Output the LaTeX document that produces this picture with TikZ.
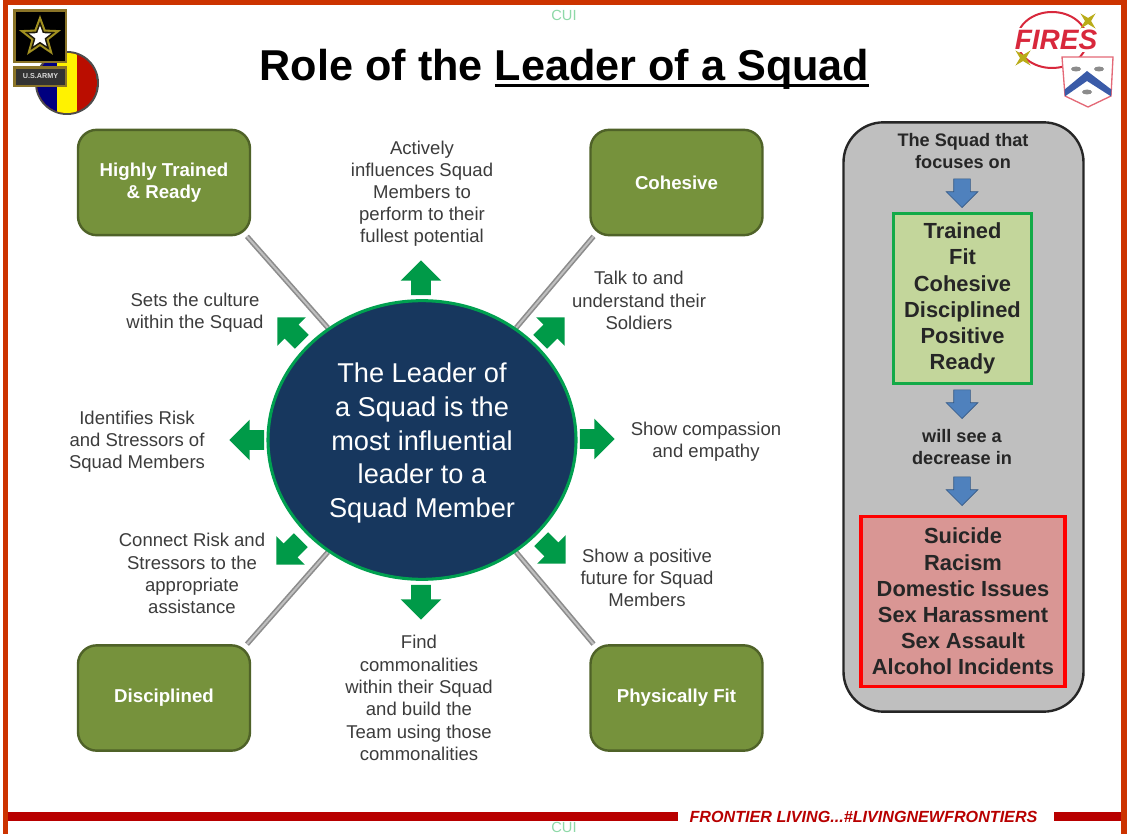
\documentclass[tikz,border=0pt]{standalone}
\usepackage{fontspec}
\setmainfont{Liberation Sans}
\usetikzlibrary{shapes.geometric,shapes.arrows,backgrounds}
\definecolor{frameorange}{HTML}{CC3300}
\definecolor{barred}{HTML}{B80000}
\definecolor{cuigreen}{HTML}{8ED9A8}
\definecolor{navy}{HTML}{17375E}
\definecolor{ringgreen}{HTML}{00A050}
\definecolor{arrowgreen}{HTML}{009A48}
\definecolor{olive}{HTML}{76923C}
\definecolor{olivedark}{HTML}{4F6228}
\definecolor{bodytext}{HTML}{3C3C3C}
\definecolor{panelgray}{HTML}{BFBFBF}
\definecolor{lightgreen}{HTML}{C3D69B}
\definecolor{lightred}{HTML}{D99694}
\definecolor{bluearrow}{HTML}{4F81BD}
\definecolor{armygold}{HTML}{8A7428}
\definecolor{firered}{HTML}{D8283C}
\definecolor{crestblue}{HTML}{3A5BA8}
\newcommand{\thickul}[1]{\setbox0\hbox{#1}\rlap{\raisebox{-5.2pt}{\rule{\wd0}{2.2pt}}}\box0}
\tikzset{
  x=0.75pt,y=-0.75pt,
  lbl/.style={align=center,text=bodytext,font=\fontsize{13.9pt}{16.6pt}\selectfont,inner sep=0pt},
  topicbox/.style={draw=olivedark,line width=1.8pt,fill=olive,rounded corners=14pt,minimum width=129pt,minimum height=79pt,text=white,align=center,font=\bfseries\fontsize{14pt}{16.6pt}\selectfont,inner sep=0pt},
  spoke/.style={draw=gray!90,line width=1.2pt,double=gray!50,double distance=1.5pt},
  greenarrow/.style={single arrow,anchor=tip,fill=arrowgreen,draw=none,inner sep=7.15pt,minimum height=26pt,single arrow head extend=7.85pt,text width=0pt,text height=0pt,text depth=0pt},
  bluedown/.style={single arrow,anchor=tip,fill=bluearrow,draw=bluearrow!70!black,line width=.5pt,shape border rotate=270,inner sep=6pt,minimum height=21.5pt,single arrow head extend=5.6pt,text width=0pt,text height=0pt,text depth=0pt},
  paneltext/.style={align=center,text=black!85,font=\bfseries\fontsize{13.6pt}{16.6pt}\selectfont,inner sep=0pt},
  listtext/.style={align=center,text=black!85,font=\bfseries\fontsize{16.4pt}{19.6pt}\selectfont,inner sep=0pt},
  cui/.style={text=cuigreen,font=\fontsize{11pt}{12pt}\selectfont,inner sep=0pt}
}
\begin{document}
\begin{tikzpicture}
\useasboundingbox (0,0) rectangle (1127,834);
\begin{scope}[on background layer]
\fill[white] (0,0) rectangle (1127,834);
\end{scope}
% frame
\fill[frameorange] (3,0) rectangle (1127,5);
\fill[frameorange] (3,0) rectangle (8,834);
\fill[frameorange] (1121,0) rectangle (1127,834);
\fill[barred] (8,812) rectangle (678,821);
\fill[barred] (1054,812) rectangle (1121,821);
\node[text=barred,inner sep=0pt,font=\bfseries\itshape\fontsize{12.1pt}{13pt}\selectfont] (motto) at (863.5,817) {FRONTIER LIVING...\#LIVINGNEWFRONTIERS};
\node[cui] (cuitop) at (564,15) {CUI};
\node[cui] (cuibot) at (564,827.5) {CUI};
% title
\node[inner sep=0pt,font=\bfseries\fontsize{32.4pt}{36pt}\selectfont,text=black] (title) at (564.5,69) {Role of the \thickul{Leader of a Squad}};
% Army logo
\fill[black!70] (67,83) circle (32);
\begin{scope}
\clip (67,83) circle (30);
\fill[red!70!black!90!orange] (37,53) rectangle (97,113);
\fill[yellow] (57,53) rectangle (77,113);
\fill[blue!50!black] (37,53) rectangle (57,113);
\end{scope}
\draw[armygold,line width=1.8pt,fill=black] (14.5,10.5) rectangle (66,62);
\node[star,star points=5,star point ratio=2.4,fill=armygold!80!yellow,minimum size=33pt,inner sep=0pt] (armystar) at (40,37) {};
\node[star,star points=5,star point ratio=2.4,fill=black!80!armygold,minimum size=24pt,inner sep=0pt] (armystarmid) at (40,37) {};
\node[star,star points=5,star point ratio=2.4,fill=white,minimum size=17pt,inner sep=0pt] (armystarin) at (40,37) {};
\draw[armygold,line width=1.8pt,fill=black!80] (14.5,67.5) rectangle (66,86);
\node[text=white!85!black,inner sep=0pt,font=\bfseries\fontsize{5.4pt}{6pt}\selectfont] (usarmy) at (40.5,76.5) {U.S.ARMY};
% Fires logo
\draw[firered,line width=1.5pt] (1052,40) ellipse (35 and 28);
\fill[white] (1012,28) rectangle (1100,52);
\node[text=firered,inner sep=0pt,font=\bfseries\itshape\fontsize{21pt}{23pt}\selectfont] (fires) at (1056,40) {FIRES};
\node[star,star points=4,star point ratio=3.5,fill=armygold!60!yellow,minimum size=16pt,inner sep=0pt,rotate=45] (stara) at (1088,21) {};
\node[star,star points=4,star point ratio=3.5,fill=armygold!60!yellow,minimum size=16pt,inner sep=0pt,rotate=45] (starb) at (1023,58) {};
\draw[firered!70,line width=1pt,fill=white] (1062,57) -- (1113,57) -- (1111,96) -- (1088,107) -- (1065,96) -- cycle;
\begin{scope}
\clip (1062,57) -- (1113,57) -- (1111,96) -- (1088,107) -- (1065,96) -- cycle;
\fill[crestblue] (1064,90) -- (1087,71) -- (1112,90) -- (1112,97) -- (1087,81) -- (1064,97) -- cycle;
\end{scope}
\fill[black!45] (1076,69) ellipse (5 and 2.5) (1099,69) ellipse (5 and 2.5) (1087,92) ellipse (5 and 2.5);
% spoke diagram
\node[ellipse,draw=ringgreen,line width=2.3pt,fill=navy,minimum width=231pt,minimum height=209pt,inner sep=0pt] (hub) at (422,440) {};
\node[text=white,align=center,inner sep=0pt,font=\fontsize{20.4pt}{25.2pt}\selectfont] (hubtext) at (422,443) {The Leader of\\a Squad is the\\most influential\\leader to a\\Squad Member};
\node[topicbox] (trained) at (164,182.5) {Highly Trained\\\& Ready};
\node[topicbox] (cohesive) at (676.5,182.5) {Cohesive};
\node[topicbox] (disciplined) at (164,698) {Disciplined};
\node[topicbox] (fit) at (676.5,698) {Physically Fit};
\begin{scope}[on background layer]
\draw[spoke] (hub.130) -- (trained.-33);
\draw[spoke] (hub.50) -- (cohesive.213);
\draw[spoke] (hub.230) -- (disciplined.33);
\draw[spoke] (hub.310) -- (fit.147);
\end{scope}
\node[greenarrow,rotate=90] (aup) at (421,260) {};
\node[greenarrow,rotate=45] (ane) at (565,317) {};
\node[greenarrow,rotate=0] (ae) at (615,439) {};
\node[greenarrow,rotate=-45] (ase) at (566,564) {};
\node[greenarrow,rotate=-90] (as) at (421,620) {};
\node[greenarrow,rotate=-135] (asw) at (276,565) {};
\node[greenarrow,rotate=180] (aw) at (229,440) {};
\node[greenarrow,rotate=135] (anw) at (277,317) {};
\node[lbl] (t1) at (422,193.5) {Actively\\influences Squad\\Members to\\perform to their\\fullest potential};
\node[lbl] (t2) at (639,300.5) {Talk to and\\understand their\\Soldiers};
\node[lbl] (t3) at (706,441.5) {Show compassion\\and empathy};
\node[lbl] (t4) at (647,578) {Show a positive\\future for Squad\\Members};
\node[lbl,font=\fontsize{13.9pt}{16.8pt}\selectfont] (t5) at (419,698) {Find\\commonalities\\within their Squad\\and build the\\Team using those\\commonalities};
\node[lbl] (t6) at (192,573.5) {Connect Risk and\\Stressors to the\\appropriate\\assistance};
\node[lbl] (t7) at (137,441.5) {Identifies Risk\\and Stressors of\\Squad Members};
\node[lbl] (t8) at (195,312.5) {Sets the culture\\within the Squad};
% right panel
\node[draw=black!85,line width=1.8pt,fill=panelgray,rounded corners=30pt,minimum width=180pt,minimum height=442pt,inner sep=0pt] (panel) at (963.5,417) {};
\node[paneltext] (focus) at (963,151) {The Squad that\\focuses on};
\node[draw=ringgreen!90!lime,line width=2.3pt,fill=lightgreen,minimum width=104pt,minimum height=128pt,inner sep=0pt,listtext] (good) at (962.5,298.5) {Trained\\Fit\\Cohesive\\Disciplined\\Positive\\Ready};
\node[paneltext] (see) at (962,447) {will see a\\decrease in};
\node[draw=red,line width=2.3pt,fill=lightred,minimum width=153pt,minimum height=127pt,inner sep=0pt,listtext] (bad) at (963,601.5) {Suicide\\Racism\\Domestic Issues\\Sex Harassment\\Sex Assault\\Alcohol Incidents};
\node[bluedown] (b1) at (962,208) {};
\node[bluedown] (b2) at (962,419) {};
\node[bluedown] (b3) at (962,506) {};
\end{tikzpicture}
\end{document}
